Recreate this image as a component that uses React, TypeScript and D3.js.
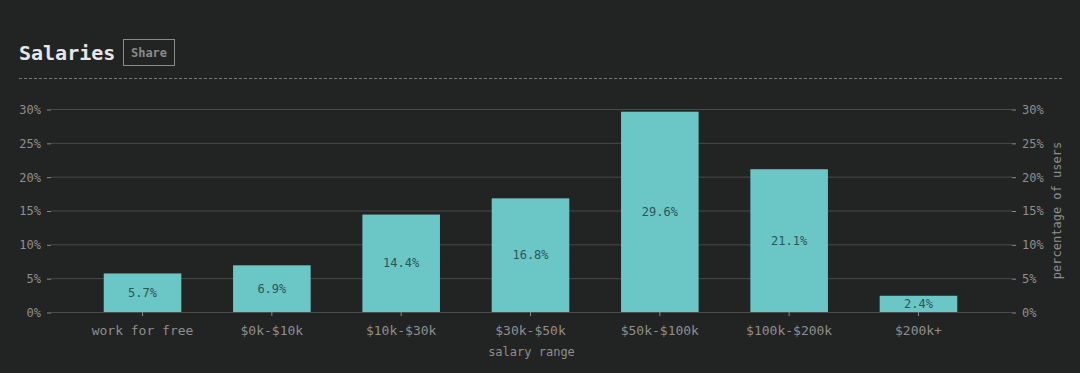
import React, {useEffect, useRef} from 'react'
import * as d3 from 'd3'

const categories = ['work for free', '$0k-$10k', '$10k-$30k', '$30k-$50k', '$50k-$100k', '$100k-$200k', '$200k+'];
const percentages = [5.7, 6.9, 14.4, 16.8, 29.6, 21.1, 2.4];
const yTicks = [0, 5, 10, 15, 20, 25, 30];

const width = 1080;
const height = 373;
const margin = ({top: 109, right: 68, bottom: 61, left: 51});
const font = '"DejaVu Sans Mono", "Liberation Mono", monospace';

export default function App() {
    const ref = useRef<SVGSVGElement>(null);

    useEffect(() => {
        const svg = d3.select(ref.current);
        svg.selectAll('*').remove();

        svg.append('rect').attr('width', width).attr('height', height).attr('fill', '#222323');

        // header
        svg.append('text')
            .attr('x', 19).attr('y', 60)
            .attr('font-family', font).attr('font-size', 20).attr('font-weight', 'bold')
            .attr('fill', '#e6e6e6')
            .text('Salaries');
        svg.append('rect')
            .attr('x', 123.5).attr('y', 39.5).attr('width', 51).attr('height', 26)
            .attr('fill', 'none').attr('stroke', '#8a8a8a');
        svg.append('text')
            .attr('x', 149).attr('y', 57)
            .attr('text-anchor', 'middle')
            .attr('font-family', font).attr('font-size', 12).attr('font-weight', 'bold')
            .attr('fill', '#8a8a8a')
            .text('Share');
        svg.append('line')
            .attr('x1', 19).attr('x2', 1062).attr('y1', 78.5).attr('y2', 78.5)
            .attr('stroke', '#777').attr('stroke-dasharray', '3,2');

        // bands sit slightly inside the grid extent
        const x = d3.scaleBand()
            .domain(categories)
            .range([margin.left + 1, width - margin.right - 3])
            .padding(0.4);

        const y = d3.scaleLinear()
            .domain([0, 30])
            .range([height - margin.bottom, margin.top]);

        // grid
        svg.append('g')
            .selectAll('line')
            .data(yTicks)
            .join('line')
            .attr('x1', margin.left).attr('x2', width - margin.right)
            .attr('y1', d => y(d) + 0.5).attr('y2', d => y(d) + 0.5)
            .attr('stroke', '#4a4a4a');

        const styleAxis = (g, size) => {
            g.select('.domain').remove();
            g.selectAll('.tick line').attr('stroke', '#8a8a8a');
            g.selectAll('.tick text')
                .attr('fill', '#8f8f8f')
                .attr('font-family', font)
                .attr('font-size', size);
        };

        svg.append('g')
            .attr('transform', `translate(${margin.left},0.5)`)
            .call(d3.axisLeft(y).tickValues(yTicks).tickFormat(d => `${d}%`).tickSize(4).tickPadding(6))
            .call(g => styleAxis(g, 12));

        svg.append('g')
            .attr('transform', `translate(${width - margin.right},0.5)`)
            .call(d3.axisRight(y).tickValues(yTicks).tickFormat(d => `${d}%`).tickSize(4).tickPadding(6))
            .call(g => styleAxis(g, 12));

        svg.append('g')
            .attr('transform', `translate(0,${height - margin.bottom})`)
            .call(d3.axisBottom(x).tickSize(4).tickPadding(10))
            .call(g => styleAxis(g, 13));

        // bars
        svg.append('g')
            .selectAll('rect')
            .data(percentages)
            .join('rect')
            .attr('x', (d, i) => x(categories[i]))
            .attr('y', d => y(d))
            .attr('width', x.bandwidth())
            .attr('height', d => y(0) - y(d))
            .attr('fill', '#6bc6c6');

        svg.append('g')
            .selectAll('text')
            .data(percentages)
            .join('text')
            .attr('x', (d, i) => x(categories[i]) + x.bandwidth() / 2)
            .attr('y', d => (y(d) + y(0)) / 2)
            .attr('dy', '0.35em')
            .attr('text-anchor', 'middle')
            .attr('font-family', font).attr('font-size', 12)
            .attr('fill', '#2a5656')
            .text(d => `${d.toFixed(1)}%`);

        // axis titles
        svg.append('text')
            .attr('x', (margin.left + width - margin.right) / 2)
            .attr('y', 356)
            .attr('text-anchor', 'middle')
            .attr('font-family', font).attr('font-size', 12)
            .attr('fill', '#8f8f8f')
            .text('salary range');

        svg.append('text')
            .attr('transform', `translate(1061,${(y(0) + y(30)) / 2}) rotate(-90)`)
            .attr('text-anchor', 'middle')
            .attr('font-family', font).attr('font-size', 12)
            .attr('fill', '#8f8f8f')
            .text('percentage of users');
    }, []);

    return <svg ref={ref} width={width} height={height}
                style={{position: 'absolute', left: 0, top: 0, display: 'block'}}/>;
}
